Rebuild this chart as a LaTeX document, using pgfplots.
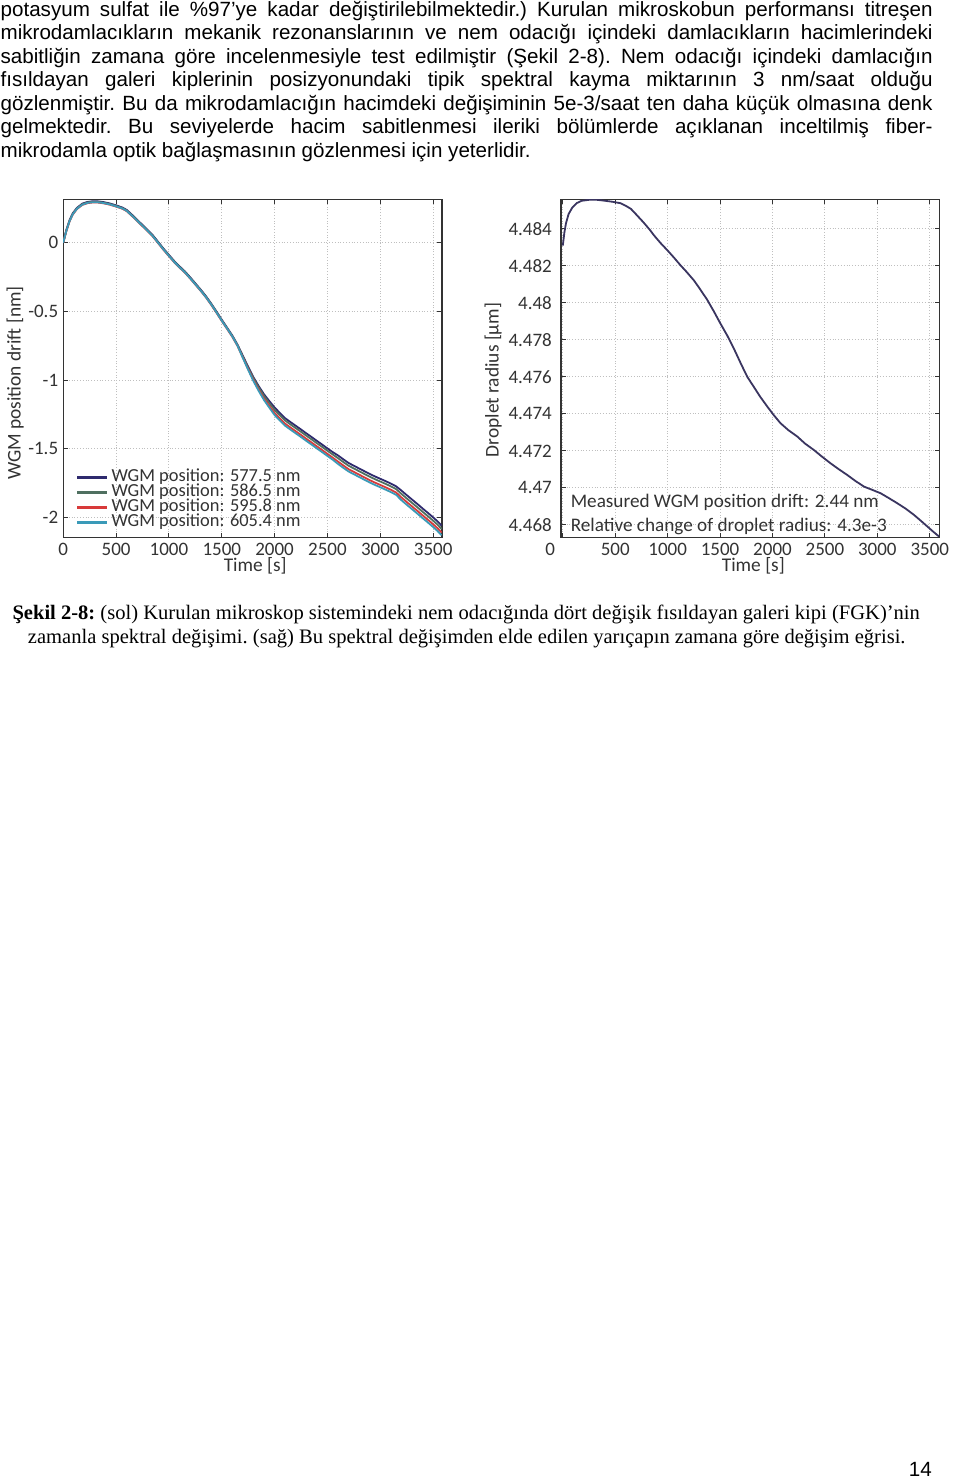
\documentclass[border=0pt]{standalone}
\usepackage{fontspec}
\usepackage{pgfplots}
\usepackage{pgfplotstable}
\pgfplotsset{compat=1.18}
\newfontfamily\bodyfont{Liberation Sans}
\newfontfamily\capfont{Liberation Serif}
\newfontfamily\plotfont{Carlito}
\definecolor{cnavy}{HTML}{2E2A6E}
\definecolor{cgreen}{HTML}{4F7060}
\definecolor{cred}{HTML}{D83A3A}
\definecolor{cteal}{HTML}{3A9AB8}
\definecolor{cline}{HTML}{3A3560}
\definecolor{ctext}{HTML}{333333}

\pgfplotstableread{
t a b c d
0 0 0 0 0
30 0.094 0.090 0.085 0.087
60 0.164 0.160 0.155 0.157
90 0.214 0.210 0.205 0.207
130 0.254 0.250 0.245 0.247
180 0.284 0.280 0.275 0.277
230 0.297 0.293 0.288 0.290
280 0.302 0.298 0.293 0.295
330 0.301 0.297 0.292 0.294
380 0.296 0.292 0.287 0.289
440 0.286 0.282 0.277 0.279
500 0.272 0.268 0.263 0.265
560 0.256 0.252 0.247 0.249
600 0.239 0.235 0.230 0.232
650 0.204 0.200 0.195 0.197
700 0.167 0.163 0.158 0.160
750 0.129 0.125 0.120 0.122
800 0.092 0.088 0.083 0.085
850 0.052 0.048 0.043 0.045
900 0.004 0.000 -0.005 -0.003
950 -0.044 -0.048 -0.053 -0.051
1000 -0.089 -0.093 -0.098 -0.096
1050 -0.133 -0.137 -0.142 -0.140
1100 -0.172 -0.176 -0.181 -0.179
1150 -0.208 -0.212 -0.217 -0.215
1200 -0.251 -0.255 -0.260 -0.258
1250 -0.296 -0.300 -0.305 -0.303
1300 -0.341 -0.345 -0.350 -0.348
1350 -0.389 -0.393 -0.398 -0.396
1400 -0.443 -0.447 -0.452 -0.450
1450 -0.501 -0.505 -0.510 -0.508
1500 -0.561 -0.565 -0.570 -0.568
1550 -0.618 -0.622 -0.627 -0.625
1600 -0.676 -0.680 -0.685 -0.683
1650 -0.744 -0.748 -0.753 -0.751
1700 -0.824 -0.830 -0.837 -0.840
1750 -0.904 -0.912 -0.921 -0.926
1800 -0.980 -0.988 -1.001 -1.008
1850 -1.045 -1.055 -1.071 -1.080
1900 -1.104 -1.116 -1.135 -1.146
1950 -1.153 -1.168 -1.188 -1.201
2000 -1.200 -1.217 -1.240 -1.255
2050 -1.240 -1.257 -1.280 -1.295
2100 -1.278 -1.295 -1.318 -1.333
2150 -1.306 -1.323 -1.346 -1.361
2200 -1.333 -1.350 -1.373 -1.388
2250 -1.360 -1.377 -1.400 -1.415
2300 -1.388 -1.405 -1.428 -1.443
2350 -1.415 -1.432 -1.455 -1.470
2400 -1.443 -1.460 -1.483 -1.498
2450 -1.470 -1.487 -1.510 -1.525
2500 -1.498 -1.515 -1.538 -1.553
2550 -1.525 -1.542 -1.565 -1.580
2600 -1.549 -1.569 -1.594 -1.611
2650 -1.577 -1.597 -1.622 -1.639
2700 -1.604 -1.624 -1.649 -1.666
2750 -1.624 -1.644 -1.669 -1.686
2800 -1.644 -1.664 -1.689 -1.706
2850 -1.664 -1.684 -1.709 -1.726
2900 -1.684 -1.704 -1.729 -1.746
2950 -1.702 -1.722 -1.747 -1.764
3000 -1.719 -1.739 -1.764 -1.781
3050 -1.736 -1.756 -1.781 -1.798
3100 -1.754 -1.774 -1.799 -1.816
3150 -1.774 -1.794 -1.819 -1.836
3200 -1.805 -1.829 -1.855 -1.875
3250 -1.838 -1.862 -1.888 -1.908
3300 -1.870 -1.894 -1.920 -1.940
3350 -1.902 -1.926 -1.952 -1.972
3400 -1.935 -1.959 -1.985 -2.005
3450 -1.967 -1.991 -2.017 -2.037
3500 -2.000 -2.024 -2.050 -2.070
3540 -2.028 -2.052 -2.078 -2.098
3580 -2.060 -2.084 -2.110 -2.130
}\drift

\pgfplotstableread{
t r
0 4.4831
15 4.4838
30 4.4843
55 4.4848
90 4.48515
135 4.4854
180 4.48552
260 4.48558
330 4.48557
390 4.48553
470 4.48547
550 4.48539
600 4.48525
650 4.48508
700 4.48478
770 4.48435
830 4.48395
870 4.48365
930 4.48325
1000 4.48283
1060 4.48245
1120 4.48205
1180 4.48168
1250 4.48122
1300 4.48082
1376 4.48018
1440 4.47955
1500 4.47892
1570 4.47822
1630 4.47755
1700 4.47670
1760 4.47600
1820 4.47548
1880 4.47495
1950 4.47440
2010 4.47395
2076 4.47350
2150 4.47313
2236 4.47278
2310 4.47240
2395 4.47205
2470 4.47170
2554 4.47133
2630 4.47102
2713 4.47070
2790 4.47038
2873 4.47007
2950 4.46990
3032 4.46971
3110 4.46945
3191 4.46917
3270 4.46888
3350 4.46854
3420 4.46820
3478 4.46791
3530 4.46765
3589 4.46737
}\radius

\pgfplotsset{
  pagestyle/.style={
    scale only axis,
    width=189.35pt, height=169.2pt,
    axis line style={draw=ctext, line width=0.7pt},
    tick style={draw=ctext, line width=0.5pt},
    tick align=inside,
    major tick length=2.5pt,
    grid=major,
    major grid style={densely dotted, draw=gray!50, line width=0.5pt},
    ticklabel style={font=\plotfont\fontsize{9.5}{10}\selectfont, text=ctext},
    label style={font=\plotfont\fontsize{9.7}{10}\selectfont, text=ctext},
    /pgf/number format/assume math mode=true,
    /pgf/number format/1000 sep={},
    scaled ticks=false,
    xtick={0,500,...,3500},
    xticklabel style={yshift=1pt},
  }
}

\begin{document}
\begin{tikzpicture}
\begin{scope}[x=0.5pt,y=-0.5pt]
\useasboundingbox (0,0) rectangle (960,1478);
\fill[white] (0,0) rectangle (960,1478);
\def\bl{\bodyfont\fontsize{10.3}{12}\selectfont\frenchspacing}
\node[anchor=base west, inner sep=0] at (0,16) {\bl\makebox[466pt][s]{potasyum sulfat ile \%97’ye kadar değiştirilebilmektedir.) Kurulan mikroskobun performansı titreşen}};
\node[anchor=base west, inner sep=0] at (0,39.5) {\bl\makebox[466pt][s]{mikrodamlacıkların mekanik rezonanslarının ve nem odacığı içindeki damlacıkların hacimlerindeki}};
\node[anchor=base west, inner sep=0] at (0,63) {\bl\makebox[466pt][s]{sabitliğin zamana göre incelenmesiyle test edilmiştir (Şekil 2-8). Nem odacığı içindeki damlacığın}};
\node[anchor=base west, inner sep=0] at (0,86.5) {\bl\makebox[466pt][s]{fısıldayan galeri kiplerinin posizyonundaki tipik spektral kayma miktarının 3 nm/saat olduğu}};
\node[anchor=base west, inner sep=0] at (0,110) {\bl\makebox[466pt][s]{gözlenmiştir. Bu da mikrodamlacığın hacimdeki değişiminin 5e-3/saat ten daha küçük olmasına denk}};
\node[anchor=base west, inner sep=0] at (0,133.5) {\bl\makebox[466pt][s]{gelmektedir. Bu seviyelerde hacim sabitlenmesi ileriki bölümlerde açıklanan inceltilmiş fiber-}};
\node[anchor=base west, inner sep=0] at (0,157) {\bl mikrodamla optik bağlaşmasının gözlenmesi için yeterlidir.};
\def\cl{\capfont\fontsize{10.28}{12}\selectfont\frenchspacing}
\node[anchor=base, inner sep=0] at (466,619) {\cl\textbf{Şekil 2-8:} (sol) Kurulan mikroskop sistemindeki nem odacığında dört değişik fısıldayan galeri kipi (FGK)’nin};
\node[anchor=base, inner sep=0] at (466.5,643) {\cl zamanla spektral değişimi. (sağ) Bu spektral değişimden elde edilen yarıçapın zamana göre değişim eğrisi.};
\node[anchor=base east, inner sep=0] at (932,1476) {\bl 14};
\end{scope}

\begin{axis}[pagestyle,
  at={(31.5pt,-268.85pt)}, anchor=south west,
  xmin=0, xmax=3583, ymin=-2.148, ymax=0.316,
  ytick={-2,-1.5,-1,-0.5,0},
  yticklabel style={xshift=1pt},
  xlabel={Time [s]},
  xlabel style={at={(rel axis cs:0.507,-0.0836)}, anchor=center},
  ylabel={WGM position drift [nm]},
  ylabel style={at={(rel axis cs:-0.1267,0.457)}, anchor=center},
  legend cell align=left,
  legend style={at={(rel axis cs:0.032,0.2015)}, anchor=north west, draw=none, fill=none,
    font=\plotfont\fontsize{9.2}{8}\selectfont, text=ctext,
    row sep=0pt, inner sep=0pt,
    nodes={inner xsep=1.5pt, inner ysep=0pt, text height=5.8pt, text depth=1.7pt}},
  legend image code/.code={\draw[#1, line width=1.4pt] (0pt,0pt) -- (15pt,0pt);},
]
\addplot[cnavy, line width=0.9pt] table[x=t, y=a] {\drift};
\addplot[cgreen, line width=0.9pt] table[x=t, y=b] {\drift};
\addplot[cred, line width=0.9pt] table[x=t, y=c] {\drift};
\addplot[cteal, line width=0.9pt] table[x=t, y=d] {\drift};
\legend{WGM position: 577.5 nm, WGM position: 586.5 nm, WGM position: 595.8 nm, WGM position: 605.4 nm}
\end{axis}

\begin{axis}[pagestyle,
  at={(280.35pt,-268.85pt)}, anchor=south west,
  xmin=-18, xmax=3594, ymin=4.46731, ymax=4.4856,
  ytick={4.468,4.470,...,4.4845},
  yticklabel style={xshift=-1pt, /pgf/number format/.cd, fixed, precision=3},
  xticklabels={\makebox[0pt][r]{0\hspace{3.9pt}},500,1000,1500,2000,2500,3000,3500},
  xlabel={Time [s]},
  xlabel style={at={(rel axis cs:0.508,-0.0836)}, anchor=center},
  ylabel={Droplet radius [µm]},
  ylabel style={at={(rel axis cs:-0.179,0.466)}, anchor=center},
]
\addplot[cline, line width=0.9pt] table[x=t, y=r] {\radius};
\node[anchor=base west, inner sep=0, font=\plotfont\fontsize{9.6}{10}\selectfont, text=ctext] at (rel axis cs:0.025,0.088) {Measured WGM position drift: 2.44 nm};
\node[anchor=base west, inner sep=0, font=\plotfont\fontsize{9.6}{10}\selectfont, text=ctext] at (rel axis cs:0.025,0.017) {Relative change of droplet radius: 4.3e-3};
\end{axis}
\end{tikzpicture}
\end{document}
